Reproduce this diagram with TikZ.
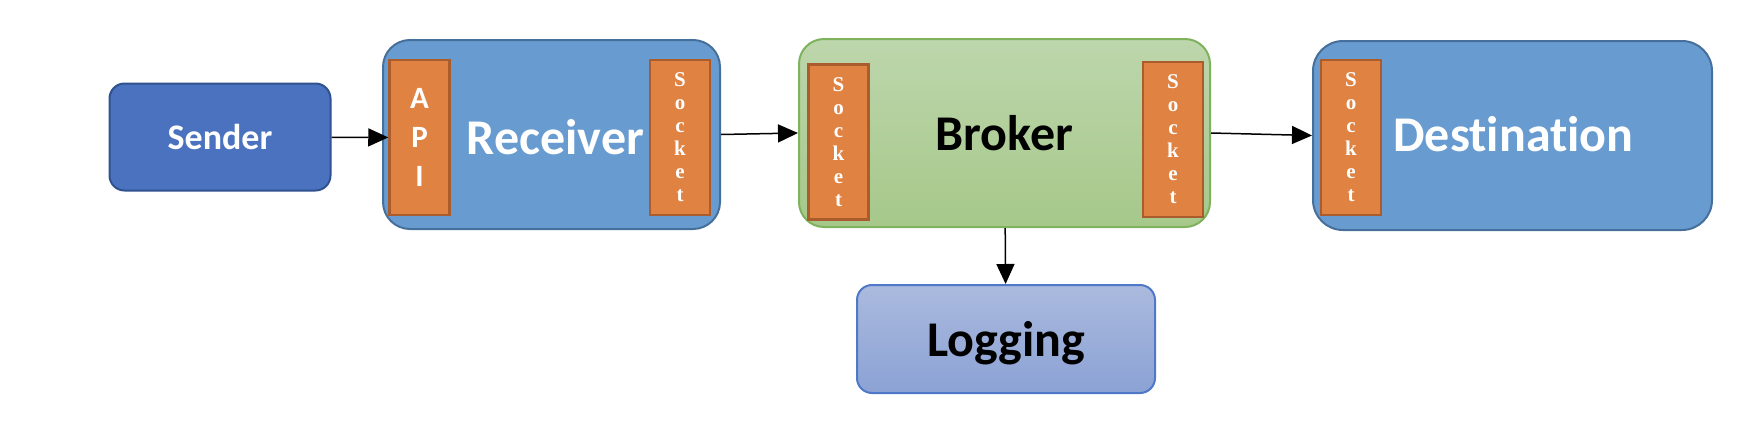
\documentclass[tikz,border=0pt]{standalone}
\usepackage{fontspec}
\setmainfont{Carlito}[Ligatures=NoCommon]
\newfontfamily\sockfont{Liberation Serif}
\usepackage{tikz}
\usetikzlibrary{arrows.meta}

\definecolor{senderblue}{RGB}{74,114,190}
\definecolor{senderedge}{RGB}{47,82,143}
\definecolor{boxblue}{RGB}{104,156,208}
\definecolor{boxedge}{RGB}{70,112,155}
\definecolor{portorange}{RGB}{224,130,66}
\definecolor{portedge}{RGB}{170,92,45}
\definecolor{greentop}{RGB}{189,214,172}
\definecolor{greenbot}{RGB}{166,200,138}
\definecolor{greenedge}{RGB}{126,178,92}
\definecolor{logtop}{RGB}{171,186,222}
\definecolor{logbot}{RGB}{139,162,212}
\definecolor{logedge}{RGB}{80,120,200}

\tikzset{
  box/.style={rounded corners=#1, line width=2pt, inner sep=0pt},
  port/.style={draw=portedge, fill=portorange, line width=2.5pt, minimum width=60pt,
    minimum height=155pt, inner sep=0pt, text=white, align=center},
  sockport/.style={port, font=\sockfont\bfseries\fontsize{21}{23}\selectfont},
  apiport/.style={port, font=\bfseries\fontsize{31}{39}\selectfont},
  bigtext/.style={font=\bfseries\fontsize{50}{54}\selectfont},
  flow/.style={-{Triangle[length=20pt,width=18pt]}, line width=1.5pt},
}

\begin{document}
\begin{tikzpicture}[x=1pt, y=-1pt]
  \useasboundingbox (0,0) rectangle (1756,426);

  \node[box=15pt, draw=senderedge, fill=senderblue, minimum width=221pt, minimum height=107pt,
    text=white, font=\bfseries\fontsize{36}{40}\selectfont] (sender) at (220,137) {Sender};
  \node[box=27pt, draw=boxedge, fill=boxblue, minimum width=337pt, minimum height=189pt]
    (receiver) at (551.5,134.5) {};
  \node[box=25pt, draw=greenedge, top color=greentop, bottom color=greenbot, minimum width=411pt,
    minimum height=188pt, bigtext] (broker) at (1004.5,133) {Broker};
  \node[box=30pt, draw=boxedge, fill=boxblue, minimum width=399pt, minimum height=189pt]
    (destination) at (1512.5,135.5) {};
  \node[box=15pt, draw=logedge, top color=logtop, bottom color=logbot, minimum width=298pt,
    minimum height=108pt, text depth=0pt, bigtext] (logging) at (1006,339) {Logging};

  \node[apiport] (api) at (419.5,137.5) {A\\P\\I};
  \foreach \name/\x/\y in {rsock/680/137.5, bsockl/838.5/142, bsockr/1173/139.5, dsock/1351/137.5}
    \node[sockport] (\name) at (\x,\y) {S\\o\\c\\k\\e\\t};

  \node[text=white, bigtext] (rtext) at (555.5,137.5) {Receiver};
  \node[text=white, bigtext] (dtext) at (1513.5,134) {Destination};

  \draw[flow] (sender) -- (api);
  \draw[flow] (receiver.east) -- (broker.west);
  \draw[flow] (broker.east) -- (destination.west);
  \draw[flow] (broker) -- (logging);
\end{tikzpicture}
\end{document}
